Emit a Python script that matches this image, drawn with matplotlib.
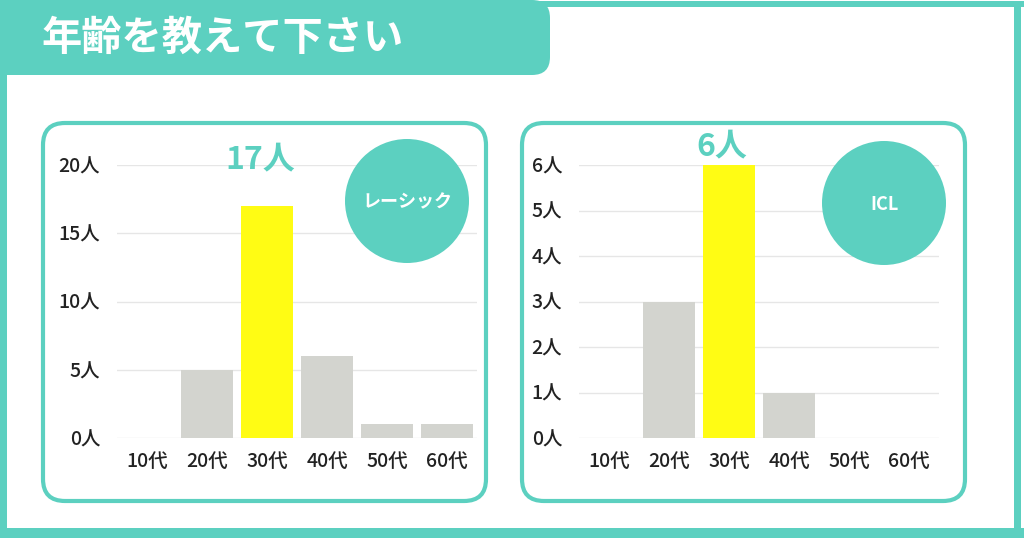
import matplotlib.pyplot as plt
from matplotlib.patches import FancyBboxPatch, Rectangle, Circle

# ── Data ─────────────────────────────────────────────────────────────────────
TITLE = '年齢を教えて下さい'
AGE_GROUPS = ['10代', '20代', '30代', '40代', '50代', '60代']

LASIK_LABEL = 'レーシック'
LASIK_COUNTS = [0, 5, 17, 6, 1, 1]
LASIK_TICKS = [0, 5, 10, 15, 20]

ICL_LABEL = 'ICL'
ICL_COUNTS = [0, 3, 6, 1, 0, 0]
ICL_TICKS = [0, 1, 2, 3, 4, 5, 6]

HIGHLIGHT = 2  # 30代

# ── Style ────────────────────────────────────────────────────────────────────
plt.rcParams['font.family'] = ['Noto Sans CJK JP', 'DejaVu Sans']

TEAL = '#5CD0C0'
YELLOW = '#FFFC14'
GRAY_BAR = '#D3D4CF'
GRID = '#E6E6E6'
TEXT = '#222222'

W, H = 1024, 538
fig = plt.figure(figsize=(W / 100, H / 100), dpi=100)


def px_axes(left, top, right, bottom, zorder=0):
    """Axes placed by pixel box (y measured from the top)."""
    return fig.add_axes([left / W, (H - bottom) / H, (right - left) / W, (bottom - top) / H],
                        zorder=zorder)


# ── Background frame ─────────────────────────────────────────────────────────
bg = fig.add_axes([0, 0, 1, 1], zorder=0)
bg.set_xlim(0, W)
bg.set_ylim(H, 0)
bg.axis('off')

bg.add_patch(Rectangle((0, 0), 7, H, color=TEAL, lw=0))
bg.add_patch(Rectangle((520, 1), W - 520, 6, color=TEAL, lw=0))
bg.add_patch(Rectangle((1014, 1), 7, H, color=TEAL, lw=0))
bg.add_patch(Rectangle((0, 528), W, 10, color=TEAL, lw=0))
bg.add_patch(FancyBboxPatch((-40, 0), 590, 75, boxstyle='round,pad=0,rounding_size=18',
                            color=TEAL, lw=0))

for x0 in (43, 522):
    bg.add_patch(FancyBboxPatch((x0, 123), 443, 378, boxstyle='round,pad=0,rounding_size=22',
                                facecolor='white', edgecolor=TEAL, lw=3))


# ── Charts ───────────────────────────────────────────────────────────────────
def draw_chart(ax, counts, ticks, label_offset):
    x = range(len(AGE_GROUPS))
    colors = [YELLOW if i == HIGHLIGHT else GRAY_BAR for i in x]
    ax.bar(x, counts, width=0.88, color=colors, zorder=3)

    ax.set_xlim(-0.5, len(AGE_GROUPS) - 0.5)
    ax.set_ylim(0, ticks[-1])
    ax.set_xticks(list(x))
    ax.set_xticklabels(AGE_GROUPS)
    ax.set_yticks(ticks)
    ax.set_yticklabels([f'{t}人' for t in ticks])
    ax.tick_params(length=0, labelsize=14, labelcolor=TEXT)
    ax.tick_params(axis='y', pad=12)
    ax.tick_params(axis='x', pad=10)
    for lbl in ax.get_xticklabels() + ax.get_yticklabels():
        lbl.set_fontweight('medium')

    ax.grid(axis='y', color=GRID, lw=1, zorder=0)
    ax.set_axisbelow(True)
    for s in ax.spines.values():
        s.set_visible(False)
    ax.patch.set_alpha(0)

    peak = counts[HIGHLIGHT]
    ax.annotate(f'{peak}人', xy=(HIGHLIGHT, peak), xytext=(-7, label_offset),
                textcoords='offset pixels', ha='center', va='center',
                fontsize=23, fontweight='bold', color=TEAL, zorder=5,
                annotation_clip=False)


ax_l = px_axes(117, 165, 477, 438, zorder=1)
draw_chart(ax_l, LASIK_COUNTS, LASIK_TICKS, 47)

ax_r = px_axes(579, 165, 939, 438, zorder=1)
draw_chart(ax_r, ICL_COUNTS, ICL_TICKS, 19)

# ── Overlay: title and badges ────────────────────────────────────────────────
top = fig.add_axes([0, 0, 1, 1], zorder=2)
top.set_xlim(0, W)
top.set_ylim(H, 0)
top.axis('off')

top.text(42, 38, TITLE, color='white', fontsize=29, fontweight='bold',
         ha='left', va='center')

for cx, cy, name in ((407, 201, LASIK_LABEL), (884, 203, ICL_LABEL)):
    top.add_patch(Circle((cx, cy), 62, color=TEAL, lw=0))
    top.text(cx, cy + 1, name, color='white', fontsize=13, fontweight='bold',
             ha='center', va='center')

fig.savefig('out.png', dpi=100)
plt.close(fig)
